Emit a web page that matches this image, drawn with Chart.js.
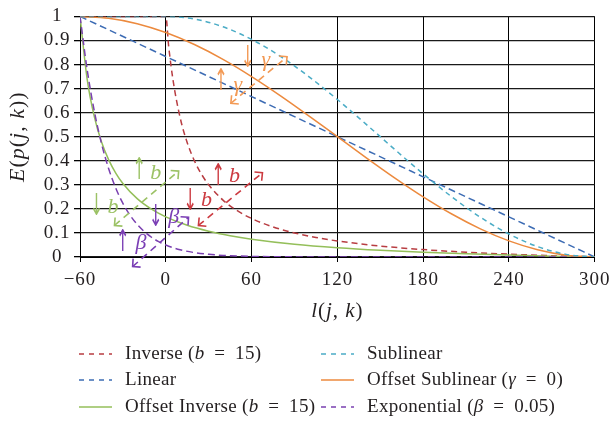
<!DOCTYPE html>
<html><head><meta charset="utf-8">
<script src="https://cdn.jsdelivr.net/npm/chart.js@4/dist/chart.umd.min.js"></script>
<style>html,body{margin:0;padding:0;background:#fff}#wrap{width:616px;height:421px}</style>
</head><body><div id="wrap"><canvas id="c" width="616" height="421"></canvas></div>
<script>
// ---- tick labels ----
const xTickValues = [-60, 0, 60, 120, 180, 240, 300];
const xTickLabels = ['\u221260', '0', '60', '120', '180', '240', '300'];
const yTickLabels = ['0', '0.1', '0.2', '0.3', '0.4', '0.5', '0.6', '0.7', '0.8', '0.9', '1'];

// ---- series ----
const inverseX = [-60, 0, 2, 5, 10, 15, 20, 25, 30, 40, 50, 60, 75, 90, 105, 120, 150, 180, 210, 240, 270, 300];
const inverseY = [1, 1, 0.8765, 0.7375, 0.58, 0.475, 0.40, 0.3438, 0.30, 0.2364, 0.1923, 0.16, 0.125, 0.10, 0.0813, 0.0667, 0.0455, 0.0308, 0.02, 0.0118, 0.0053, 0];

const linearX = [-60, 0, 60, 120, 180, 240, 300];
const linearY = [1, 0.8333, 0.6667, 0.5, 0.3333, 0.1667, 0];

const sublinearX = [-60, 0, 20, 40, 60, 80, 100, 120, 140, 160, 180, 200, 220, 240, 260, 280, 300];
const sublinearY = [1, 1, 0.9891, 0.9568, 0.9045, 0.8346, 0.75, 0.6545, 0.5523, 0.4477, 0.3455, 0.25, 0.1654, 0.0955, 0.0432, 0.0109, 0];

const offSublinearX = [-60, -40, -20, 0, 20, 40, 60, 80, 100, 120, 140, 160, 180, 200, 220, 240, 260, 280, 300];
const offSublinearY = [1, 0.9924, 0.9698, 0.933, 0.883, 0.8214, 0.75, 0.671, 0.5868, 0.5, 0.4132, 0.329, 0.25, 0.1786, 0.117, 0.067, 0.0302, 0.0076, 0];

const offInverseX = [-60, -55, -50, -45, -40, -35, -30, -20, -10, 0, 15, 30, 45, 60, 90, 120, 150, 180, 210, 240, 270, 300];
const offInverseY = [1, 0.7396, 0.5833, 0.4792, 0.4048, 0.349, 0.3056, 0.2424, 0.1987, 0.1667, 0.1319, 0.1071, 0.0885, 0.0741, 0.053, 0.0385, 0.0278, 0.0196, 0.0132, 0.0079, 0.0036, 0];

const exponentialX = [-60, -55, -50, -45, -40, -35, -30, -25, -20, -15, -10, -5, 0, 10, 20, 30, 40, 60, 80, 120, 300];
const exponentialY = [1, 0.7788, 0.6065, 0.4724, 0.3679, 0.2865, 0.2231, 0.1738, 0.1353, 0.1054, 0.0821, 0.0639, 0.0498, 0.0302, 0.0183, 0.0111, 0.0067, 0.0025, 0.0009, 0.0001, 0];

const seriesLabels = ['Inverse (b = 15)', 'Sublinear', 'Linear', 'Offset Sublinear (\u03b3 = 0)', 'Offset Inverse (b = 15)', 'Exponential (\u03b2 = 0.05)'];

// ---- annotation arrows (data coordinates) ----
const annotations = [
  { color: '#f39a55', from: [45.5, 0.639], to: [84.8, 0.832],
    labels: [['\u2193', 57.2, 0.822, false], ['\u03b3', 69.9, 0.816, true], ['\u2191', 38.6, 0.725, false], ['\u03b3', 50.3, 0.713, true]] },
  { color: '#9cc266', from: [-35.9, 0.131], to: [9.0, 0.357],
    labels: [['\u2191', -18.6, 0.357, false], ['b', -7.1, 0.35, true], ['\u2193', -48.5, 0.205, false], ['b', -37, 0.206, true]] },
  { color: '#cc3a40', from: [22.8, 0.131], to: [67.6, 0.35],
    labels: [['\u2191', 36.6, 0.332, false], ['b', 48.1, 0.336, true], ['\u2193', 17, 0.227, false], ['b', 28.5, 0.234, true]] },
  { color: '#7b3fb5', from: [-23.2, -0.04], to: [15.9, 0.165],
    labels: [['\u2193', -7.1, 0.162, false], ['\u03b2', 5.5, 0.165, true], ['\u2191', -30.1, 0.057, false], ['\u03b2', -17.4, 0.057, true]] }
];

const SERIF = '"Liberation Serif", "DejaVu Serif", serif';
const TEXT = '#231f20';

function mk(label, xs, ys, color, dash, order) {
  return {
    label, data: xs.map((x, i) => ({ x, y: ys[i] })),
    borderColor: color, backgroundColor: color, borderWidth: 1.5,
    borderDash: dash, pointRadius: 0, fill: false, cubicInterpolationMode: 'monotone', order
  };
}

const datasets = [
  mk(seriesLabels[0], inverseX, inverseY, '#b83d42', [6, 4], 6),
  mk(seriesLabels[1], sublinearX, sublinearY, '#4bacc6', [5, 4], 1),
  mk(seriesLabels[2], linearX, linearY, '#3d6cb4', [7, 4], 3),
  mk(seriesLabels[3], offSublinearX, offSublinearY, '#ec8a3e', [], 2),
  mk(seriesLabels[4], offInverseX, offInverseY, '#94bf5a', [], 5),
  mk(seriesLabels[5], exponentialX, exponentialY, '#7a40b0', [7, 4], 4)
];

function splitRich(str) {
  const parts = [];
  const re = /([bγβ])(?= =)/g;
  let last = 0, m;
  while ((m = re.exec(str))) {
    if (m.index > last) parts.push([str.slice(last, m.index), false]);
    parts.push([m[1], true]);
    last = m.index + 1;
  }
  if (last < str.length) parts.push([str.slice(last), false]);
  return parts.map(p => [p[0].replace(/ = /g, '\u2002=\u2002'), p[1]]);
}

function drawRich(ctx, parts, x, y, size, align) {
  const fonts = parts.map(p => (p[1] ? 'italic ' : '') + size + 'px ' + SERIF);
  const widths = parts.map((p, i) => { ctx.font = fonts[i]; return ctx.measureText(p[0]).width; });
  const total = widths.reduce((a, b) => a + b, 0);
  let cx = align === 'center' ? x - total / 2 : x;
  ctx.textAlign = 'left';
  ctx.textBaseline = 'middle';
  parts.forEach((p, i) => { ctx.font = fonts[i]; ctx.fillText(p[0], cx, y); cx += widths[i]; });
}

const extras = {
  id: 'extras',
  beforeDraw(chart) {
    if ('letterSpacing' in chart.ctx) chart.ctx.letterSpacing = '1px';
  },
  afterDatasetsDraw(chart) {
    const ctx = chart.ctx, xs = chart.scales.x, ys = chart.scales.y;
    ctx.save();
    annotations.forEach(a => {
      const x1 = xs.getPixelForValue(a.from[0]), y1 = ys.getPixelForValue(a.from[1]);
      const x2 = xs.getPixelForValue(a.to[0]), y2 = ys.getPixelForValue(a.to[1]);
      ctx.strokeStyle = a.color; ctx.fillStyle = a.color; ctx.lineWidth = 1.6;
      ctx.setLineDash([7, 5]);
      ctx.beginPath(); ctx.moveTo(x1, y1); ctx.lineTo(x2, y2); ctx.stroke();
      ctx.setLineDash([]);
      const ang = Math.atan2(y2 - y1, x2 - x1);
      const head = (px, py, dir) => {
        const L = 8;
        ctx.beginPath();
        ctx.moveTo(px - L * Math.cos(dir - Math.PI / 4), py - L * Math.sin(dir - Math.PI / 4));
        ctx.lineTo(px, py);
        ctx.lineTo(px - L * Math.cos(dir + Math.PI / 4), py - L * Math.sin(dir + Math.PI / 4));
        ctx.stroke();
      };
      head(x2, y2, ang);
      head(x1, y1, ang + Math.PI);
      if ('letterSpacing' in ctx) ctx.letterSpacing = '0px';
      a.labels.forEach(l => {
        const px = xs.getPixelForValue(l[1]), py = ys.getPixelForValue(l[2]);
        ctx.font = l[3] ? 'italic 22px ' + SERIF : '30px "DejaVu Sans", sans-serif';
        ctx.textAlign = 'center'; ctx.textBaseline = 'middle';
        if (l[3]) {
          ctx.fillText(l[0], px, py);
        } else {
          ctx.save(); ctx.translate(px, py); ctx.scale(0.55, 1);
          ctx.fillText(l[0], 0, 0); ctx.restore();
        }
      });
    });
    ctx.restore();
  },
  afterDraw(chart) {
    const ctx = chart.ctx, area = chart.chartArea;
    ctx.save();
    ctx.fillStyle = TEXT;
    if ('letterSpacing' in ctx) ctx.letterSpacing = '1px';
    drawRich(ctx, [['l', true], ['(', false], ['j', true], [', ', false], ['k', true], [')', false]], (area.left + area.right) / 2, 311, 21, 'center');
    ctx.save();
    ctx.translate(18, (area.top + area.bottom) / 2);
    ctx.rotate(-Math.PI / 2);
    drawRich(ctx, [['E', true], ['(', false], ['p', true], ['(', false], ['j', true], [', ', false], ['k', true], ['))', false]], 0, 0, 22, 'center');
    ctx.restore();
    if ('letterSpacing' in ctx) ctx.letterSpacing = '0.3px';
    const colX = [79, 321], textX = [125, 367], rowY = [354, 380, 407];
    chart.data.datasets.forEach((ds, i) => {
      const c = i % 2, r = Math.floor(i / 2);
      ctx.strokeStyle = ds.borderColor; ctx.lineWidth = 1.5;
      ctx.setLineDash(ds.borderDash.length ? [5, 5] : []);
      ctx.beginPath(); ctx.moveTo(colX[c], rowY[r]); ctx.lineTo(colX[c] + 33, rowY[r]); ctx.stroke();
      ctx.setLineDash([]);
      ctx.fillStyle = TEXT;
      drawRich(ctx, splitRich(ds.label), textX[c], rowY[r], 19, 'left');
    });
    ctx.restore();
  }
};

new Chart(document.getElementById('c'), {
  type: 'line',
  data: { datasets },
  options: {
    responsive: false, animation: false, devicePixelRatio: 1,
    layout: { padding: { top: 13, right: 14, bottom: 94, left: 0 } },
    plugins: { legend: { display: false }, tooltip: { enabled: false } },
    scales: {
      x: {
        type: 'linear', min: -60, max: 300,
        afterBuildTicks: s => { s.ticks = xTickValues.map(v => ({ value: v })); },
        ticks: { autoSkip: false, callback: v => xTickLabels[xTickValues.indexOf(v)], font: { family: SERIF, size: 19 }, color: TEXT, padding: 7, maxRotation: 0 },
        grid: { color: '#000', lineWidth: 1, tickLength: 5, tickColor: '#000' },
        border: { color: '#000', width: 1 },
        afterFit: s => { s.height = 70; }
      },
      y: {
        min: 0, max: 1,
        ticks: { autoSkip: false, stepSize: 0.1, callback: v => yTickLabels[Math.round(v * 10)], font: { family: SERIF, size: 19 }, color: TEXT, padding: 5, crossAlign: 'center' },
        grid: { color: '#1a1a1a', lineWidth: 1.3, tickLength: 6, tickColor: '#000' },
        border: { color: '#000', width: 1 },
        afterFit: s => { s.width = 80; }
      }
    }
  },
  plugins: [extras]
});
</script>
</body></html>
